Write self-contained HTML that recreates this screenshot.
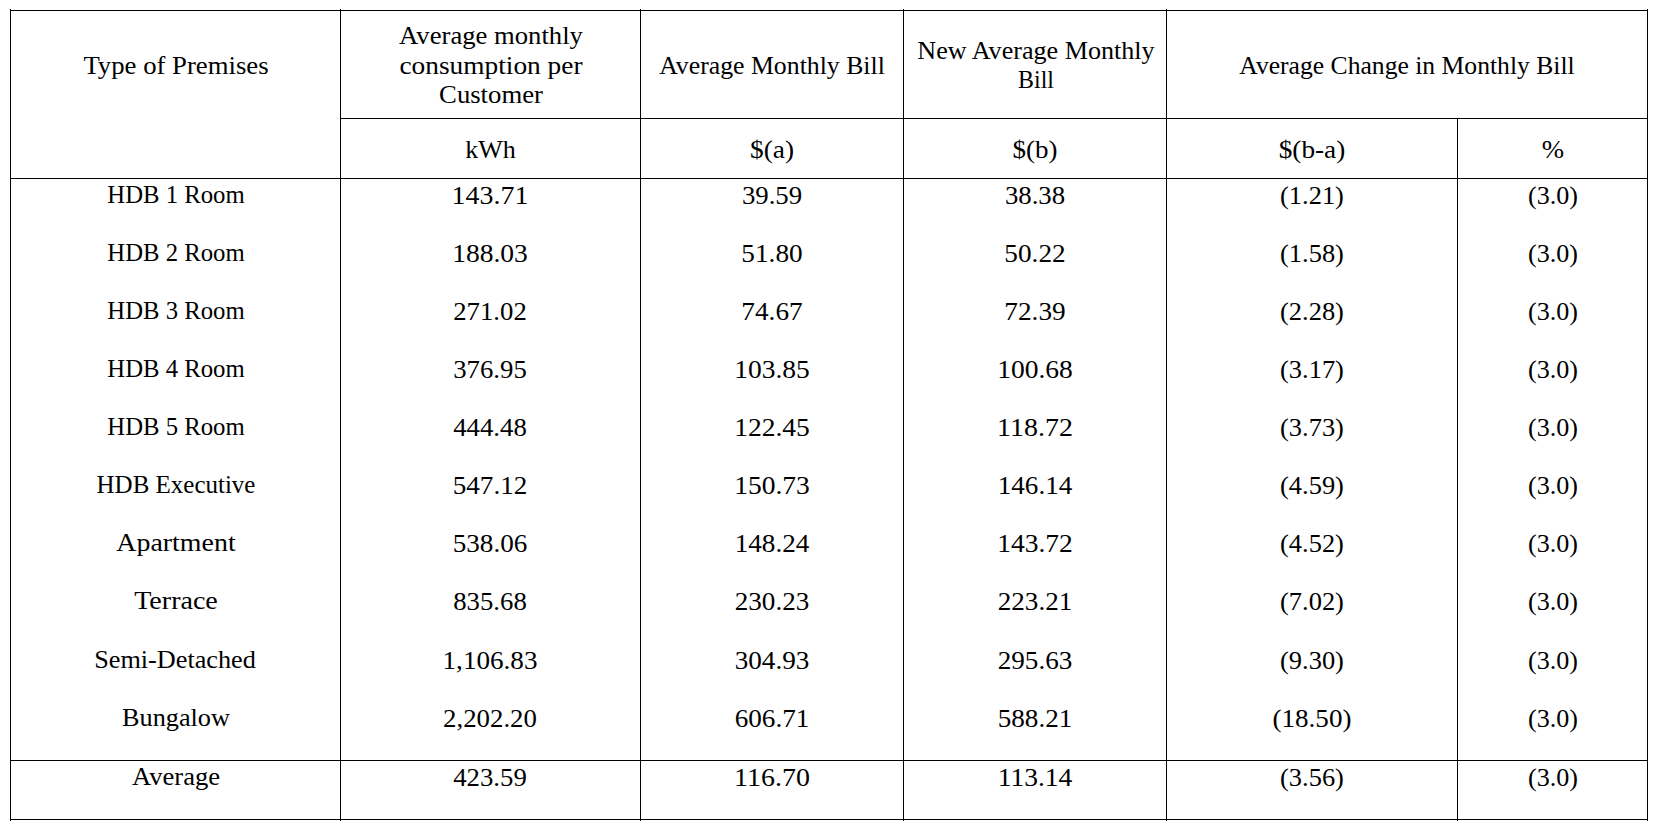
<!DOCTYPE html>
<html><head><meta charset="utf-8"><style>
html,body{margin:0;padding:0;background:#fff;}
#pg{position:relative;width:1656px;height:828px;overflow:hidden;background:#fff;}
.l{position:absolute;background:#000;}
.t{position:absolute;width:600px;text-align:center;white-space:nowrap;font-family:"Liberation Serif",serif;font-size:26.0px;line-height:26.0px;color:#000;transform-origin:50% 50%;}
</style></head><body><div id="pg">
<div class="l" style="left:10px;top:9px;width:1px;height:812px"></div>
<div class="l" style="left:340px;top:9px;width:1px;height:812px"></div>
<div class="l" style="left:640px;top:9px;width:1px;height:812px"></div>
<div class="l" style="left:903px;top:9px;width:1px;height:812px"></div>
<div class="l" style="left:1166px;top:9px;width:1px;height:812px"></div>
<div class="l" style="left:1647px;top:9px;width:1px;height:812px"></div>
<div class="l" style="left:1457px;top:118px;width:1px;height:703px"></div>
<div class="l" style="left:10px;top:10px;width:1638px;height:1px"></div>
<div class="l" style="left:340px;top:118px;width:1308px;height:1px"></div>
<div class="l" style="left:10px;top:178px;width:1638px;height:1px"></div>
<div class="l" style="left:10px;top:760px;width:1638px;height:1px"></div>
<div class="l" style="left:10px;top:819px;width:1638px;height:1px"></div>
<div class="t" id="t0" style="left:-124.50px;top:53.00px;transform:scaleX(1.0279);">Type of Premises</div>
<div class="t" id="t1" style="left:190.75px;top:23.00px;transform:scaleX(1.0251);">Average monthly</div>
<div class="t" id="t2" style="left:190.75px;top:52.60px;transform:scaleX(1.0520);">consumption per</div>
<div class="t" id="t3" style="left:190.75px;top:82.00px;transform:scaleX(1.0270);">Customer</div>
<div class="t" id="t4" style="left:472.00px;top:53.00px;transform:scaleX(0.9912);">Average Monthly Bill</div>
<div class="t" id="t5" style="left:735.80px;top:38.00px;transform:scaleX(1.0043);">New Average Monthly</div>
<div class="t" id="t6" style="left:735.80px;top:67.00px;transform:scaleX(0.9189);">Bill</div>
<div class="t" id="t7" style="left:1106.80px;top:53.00px;transform:scaleX(0.9853);">Average Change in Monthly Bill</div>
<div class="t" id="t8" style="left:190.50px;top:137.00px;">kWh</div>
<div class="t" id="t9" style="left:472.00px;top:137.00px;transform:scaleX(1.0513);">$(a)</div>
<div class="t" id="t10" style="left:735.00px;top:137.00px;transform:scaleX(1.0390);">$(b)</div>
<div class="t" id="t11" style="left:1012.00px;top:137.00px;transform:scaleX(1.0492);">$(b-a)</div>
<div class="t" id="t12" style="left:1252.50px;top:137.00px;transform:scaleX(1.0300);">%</div>
<div class="t" id="t13" style="left:-124.50px;top:182.00px;transform:scaleX(0.9510);">HDB 1 Room</div>
<div class="t" id="t14" style="left:190.00px;top:183.00px;transform:scaleX(1.0746);">143.71</div>
<div class="t" id="t15" style="left:472.00px;top:183.00px;transform:scaleX(1.0298);">39.59</div>
<div class="t" id="t16" style="left:735.00px;top:183.00px;transform:scaleX(1.0298);">38.38</div>
<div class="t" id="t17" style="left:1012.00px;top:183.00px;transform:scaleX(1.0164);">(1.21)</div>
<div class="t" id="t18" style="left:1252.50px;top:183.00px;transform:scaleX(1.0042);">(3.0)</div>
<div class="t" id="t19" style="left:-124.50px;top:240.00px;transform:scaleX(0.9510);">HDB 2 Room</div>
<div class="t" id="t20" style="left:190.00px;top:241.00px;transform:scaleX(1.0588);">188.03</div>
<div class="t" id="t21" style="left:472.00px;top:241.00px;transform:scaleX(1.0482);">51.80</div>
<div class="t" id="t22" style="left:735.00px;top:241.00px;transform:scaleX(1.0482);">50.22</div>
<div class="t" id="t23" style="left:1012.00px;top:241.00px;transform:scaleX(1.0164);">(1.58)</div>
<div class="t" id="t24" style="left:1252.50px;top:241.00px;transform:scaleX(1.0042);">(3.0)</div>
<div class="t" id="t25" style="left:-124.50px;top:298.00px;transform:scaleX(0.9510);">HDB 3 Room</div>
<div class="t" id="t26" style="left:190.00px;top:299.00px;transform:scaleX(1.0286);">271.02</div>
<div class="t" id="t27" style="left:472.00px;top:299.00px;transform:scaleX(1.0482);">74.67</div>
<div class="t" id="t28" style="left:735.00px;top:299.00px;transform:scaleX(1.0482);">72.39</div>
<div class="t" id="t29" style="left:1012.00px;top:299.00px;transform:scaleX(1.0164);">(2.28)</div>
<div class="t" id="t30" style="left:1252.50px;top:299.00px;transform:scaleX(1.0042);">(3.0)</div>
<div class="t" id="t31" style="left:-124.50px;top:356.00px;transform:scaleX(0.9510);">HDB 4 Room</div>
<div class="t" id="t32" style="left:190.00px;top:357.00px;transform:scaleX(1.0286);">376.95</div>
<div class="t" id="t33" style="left:472.00px;top:357.00px;transform:scaleX(1.0588);">103.85</div>
<div class="t" id="t34" style="left:735.00px;top:357.00px;transform:scaleX(1.0588);">100.68</div>
<div class="t" id="t35" style="left:1012.00px;top:357.00px;transform:scaleX(1.0164);">(3.17)</div>
<div class="t" id="t36" style="left:1252.50px;top:357.00px;transform:scaleX(1.0042);">(3.0)</div>
<div class="t" id="t37" style="left:-124.50px;top:414.00px;transform:scaleX(0.9510);">HDB 5 Room</div>
<div class="t" id="t38" style="left:190.00px;top:415.00px;transform:scaleX(1.0286);">444.48</div>
<div class="t" id="t39" style="left:472.00px;top:415.00px;transform:scaleX(1.0588);">122.45</div>
<div class="t" id="t40" style="left:735.00px;top:415.00px;transform:scaleX(1.0746);">118.72</div>
<div class="t" id="t41" style="left:1012.00px;top:415.00px;transform:scaleX(1.0164);">(3.73)</div>
<div class="t" id="t42" style="left:1252.50px;top:415.00px;transform:scaleX(1.0042);">(3.0)</div>
<div class="t" id="t43" style="left:-124.50px;top:472.00px;transform:scaleX(0.9610);">HDB Executive</div>
<div class="t" id="t44" style="left:190.00px;top:473.00px;transform:scaleX(1.0435);">547.12</div>
<div class="t" id="t45" style="left:472.00px;top:473.00px;transform:scaleX(1.0588);">150.73</div>
<div class="t" id="t46" style="left:735.00px;top:473.00px;transform:scaleX(1.0435);">146.14</div>
<div class="t" id="t47" style="left:1012.00px;top:473.00px;transform:scaleX(1.0164);">(4.59)</div>
<div class="t" id="t48" style="left:1252.50px;top:473.00px;transform:scaleX(1.0042);">(3.0)</div>
<div class="t" id="t49" style="left:-124.50px;top:530.00px;transform:scaleX(1.0727);">Apartment</div>
<div class="t" id="t50" style="left:190.00px;top:531.00px;transform:scaleX(1.0435);">538.06</div>
<div class="t" id="t51" style="left:472.00px;top:531.00px;transform:scaleX(1.0435);">148.24</div>
<div class="t" id="t52" style="left:735.00px;top:531.00px;transform:scaleX(1.0588);">143.72</div>
<div class="t" id="t53" style="left:1012.00px;top:531.00px;transform:scaleX(1.0164);">(4.52)</div>
<div class="t" id="t54" style="left:1252.50px;top:531.00px;transform:scaleX(1.0042);">(3.0)</div>
<div class="t" id="t55" style="left:-124.50px;top:588.00px;transform:scaleX(1.0789);">Terrace</div>
<div class="t" id="t56" style="left:190.00px;top:589.00px;transform:scaleX(1.0286);">835.68</div>
<div class="t" id="t57" style="left:472.00px;top:589.00px;transform:scaleX(1.0435);">230.23</div>
<div class="t" id="t58" style="left:735.00px;top:589.00px;transform:scaleX(1.0435);">223.21</div>
<div class="t" id="t59" style="left:1012.00px;top:589.00px;transform:scaleX(1.0164);">(7.02)</div>
<div class="t" id="t60" style="left:1252.50px;top:589.00px;transform:scaleX(1.0042);">(3.0)</div>
<div class="t" id="t61" style="left:-125.50px;top:647.00px;transform:scaleX(1.0088);">Semi-Detached</div>
<div class="t" id="t62" style="left:190.00px;top:648.00px;transform:scaleX(1.0432);">1,106.83</div>
<div class="t" id="t63" style="left:472.00px;top:648.00px;transform:scaleX(1.0435);">304.93</div>
<div class="t" id="t64" style="left:735.00px;top:648.00px;transform:scaleX(1.0435);">295.63</div>
<div class="t" id="t65" style="left:1012.00px;top:648.00px;transform:scaleX(1.0164);">(9.30)</div>
<div class="t" id="t66" style="left:1252.50px;top:648.00px;transform:scaleX(1.0042);">(3.0)</div>
<div class="t" id="t67" style="left:-124.50px;top:705.00px;transform:scaleX(1.0094);">Bungalow</div>
<div class="t" id="t68" style="left:190.00px;top:706.00px;transform:scaleX(1.0315);">2,202.20</div>
<div class="t" id="t69" style="left:472.00px;top:706.00px;transform:scaleX(1.0435);">606.71</div>
<div class="t" id="t70" style="left:735.00px;top:706.00px;transform:scaleX(1.0435);">588.21</div>
<div class="t" id="t71" style="left:1012.00px;top:706.00px;transform:scaleX(1.0411);">(18.50)</div>
<div class="t" id="t72" style="left:1252.50px;top:706.00px;transform:scaleX(1.0042);">(3.0)</div>
<div class="t" id="t73" style="left:-124.50px;top:764.00px;transform:scaleX(1.0235);">Average</div>
<div class="t" id="t74" style="left:190.00px;top:765.00px;transform:scaleX(1.0286);">423.59</div>
<div class="t" id="t75" style="left:472.00px;top:765.00px;transform:scaleX(1.0746);">116.70</div>
<div class="t" id="t76" style="left:735.00px;top:765.00px;transform:scaleX(1.0588);">113.14</div>
<div class="t" id="t77" style="left:1012.00px;top:765.00px;transform:scaleX(1.0164);">(3.56)</div>
<div class="t" id="t78" style="left:1252.50px;top:765.00px;transform:scaleX(1.0042);">(3.0)</div>
</div></body></html>
